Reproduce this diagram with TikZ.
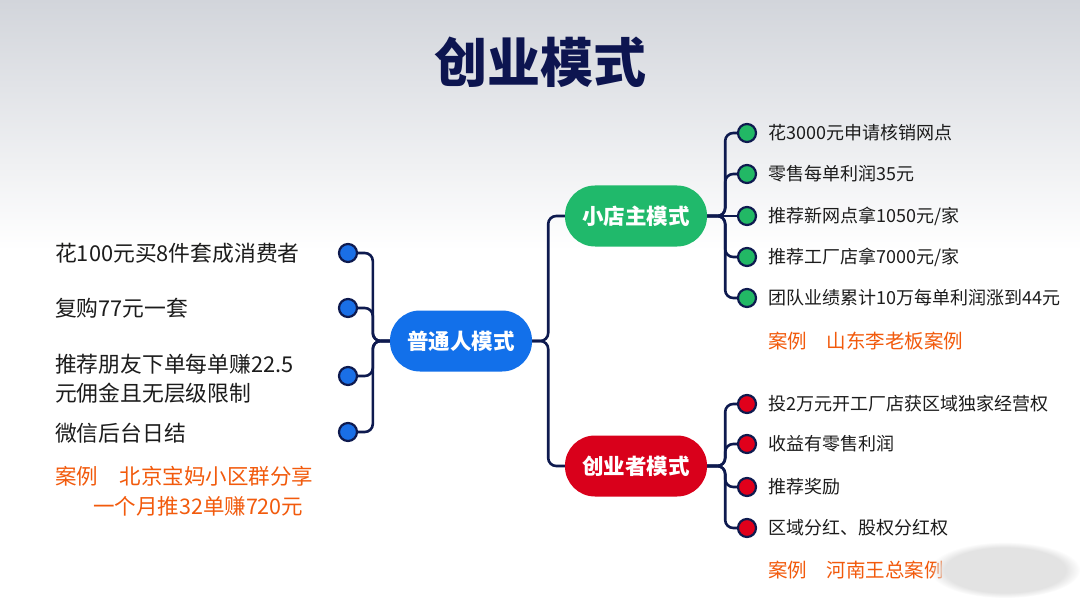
\documentclass[tikz,border=0pt]{standalone}
\usepackage{fontspec}
\setmainfont{Noto Sans CJK SC}
\usetikzlibrary{fadings}
\definecolor{navy}{HTML}{0E1A4F}
\definecolor{titlec}{HTML}{0D1550}
\definecolor{bgtop}{HTML}{D2D5DB}
\definecolor{pblue}{HTML}{1270EA}
\definecolor{pgreen}{HTML}{20B96B}
\definecolor{pred}{HTML}{D9001B}
\definecolor{dblue}{HTML}{1A6FE6}
\definecolor{dgreen}{HTML}{22B865}
\definecolor{dred}{HTML}{E0001B}
\definecolor{txt}{HTML}{1C1C1C}
\definecolor{orng}{HTML}{F25A0C}
\pgfdeclarelayer{back}
\pgfdeclarelayer{lines}
\pgfsetlayers{back,lines,main}
\tikzset{
  pill/.style={rectangle, rounded corners=30pt, minimum width=142pt, minimum height=61pt, text=white, font=\bfseries\fontsize{21.5}{24}\selectfont, inner sep=0pt},
  dot/.style={circle, draw=navy, line width=2.2pt, minimum size=18pt, inner sep=0pt},
  conn/.style={draw=navy, line width=2.6pt, rounded corners=8pt},
  ltxt/.style={anchor=west, text=txt, align=left, inner sep=0pt, font=\fontsize{21.8}{29}\selectfont},
  rtxt/.style={anchor=west, text=txt, inner sep=0pt, font=\fontsize{18}{22}\selectfont},
  lcase/.style={anchor=west, text=orng, inner sep=0pt, font=\fontsize{21.5}{24}\selectfont},
  rcase/.style={anchor=west, text=orng, inner sep=0pt, font=\fontsize{19.5}{22}\selectfont},
}
\begin{document}
\begin{tikzpicture}[x=1pt,y=-1pt]
\useasboundingbox (0,0) rectangle (1080,607);
\begin{pgfonlayer}{back}
\fill[white] (0,0) rectangle (1080,607);
\shade[top color=bgtop, bottom color=white] (0,0) rectangle (1080,250);
\end{pgfonlayer}

\node[text=titlec, font=\bfseries\fontsize{53}{60}\selectfont, inner sep=0pt] (title) at (540,62) {创业模式};

\node[pill, fill=pblue] (c) at (461,341) {普通人模式};
\node[pill, fill=pgreen] (g) at (636,216) {小店主模式};
\node[pill, fill=pred] (r) at (636,466) {创业者模式};

% left
\node[dot, fill=dblue] (l1) at (348,253) {};
\node[dot, fill=dblue] (l2) at (348,308) {};
\node[dot, fill=dblue] (l3) at (348,376) {};
\node[dot, fill=dblue] (l4) at (348,432) {};
\node[ltxt] (lt1) at (55,253) {花100元买8件套成消费者};
\node[ltxt] (lt2) at (55,308) {复购77元一套};
\node[ltxt] (lt3) at (55,379) {推荐朋友下单每单赚22.5\\元佣金且无层级限制};
\node[ltxt] (lt4) at (55,433) {微信后台日结};
\node[lcase] (lc1) at (55,476) {案例\hspace{1em}北京宝妈小区群分享};
\node[lcase] (lc2) at (93,506) {一个月推32单赚720元};

% green
\node[dot, fill=dgreen] (g1) at (747,133) {};
\node[dot, fill=dgreen] (g2) at (747,174) {};
\node[dot, fill=dgreen] (g3) at (747,216) {};
\node[dot, fill=dgreen] (g4) at (747,257) {};
\node[dot, fill=dgreen] (g5) at (747,298) {};
\node[rtxt] (gt1) at (768,133) {花3000元申请核销网点};
\node[rtxt] (gt2) at (768,174) {零售每单利润35元};
\node[rtxt] (gt3) at (768,216) {推荐新网点拿1050元/家};
\node[rtxt] (gt4) at (768,257) {推荐工厂店拿7000元/家};
\node[rtxt] (gt5) at (768,298) {团队业绩累计10万每单利润涨到44元};
\node[rcase] (gc) at (768,341) {案例\hspace{1em}山东李老板案例};

% red
\node[dot, fill=dred] (r1) at (747,404) {};
\node[dot, fill=dred] (r2) at (747,444) {};
\node[dot, fill=dred] (r3) at (747,487) {};
\node[dot, fill=dred] (r4) at (747,528) {};
\node[rtxt] (rt1) at (768,404) {投2万元开工厂店获区域独家经营权};
\node[rtxt] (rt2) at (768,444) {收益有零售利润};
\node[rtxt] (rt3) at (768,487) {推荐奖励};
\node[rtxt] (rt4) at (768,528) {区域分红、股权分红权};
\node[rcase] (rc) at (768,570) {案例\hspace{1em}河南王总案例};

\fill[black!11, path fading=circle with fuzzy edge 20 percent] (1005,570) ellipse (75 and 28);

\begin{pgfonlayer}{lines}
\foreach \d in {l1,l2,l3,l4} \draw[conn] (c.west) -- ++(-17,0) |- (\d.east);
\foreach \d in {g,r} \draw[conn] (c.east) -- ++(16,0) |- (\d.west);
\foreach \d in {g1,g2,g4,g5} \draw[conn] (g.east) -- ++(18,0) |- (\d.west);
\draw[conn] (g.east) -- (g3.west);
\foreach \d in {r1,r2,r3,r4} \draw[conn] (r.east) -- ++(18,0) |- (\d.west);
\end{pgfonlayer}
\end{tikzpicture}
\end{document}
